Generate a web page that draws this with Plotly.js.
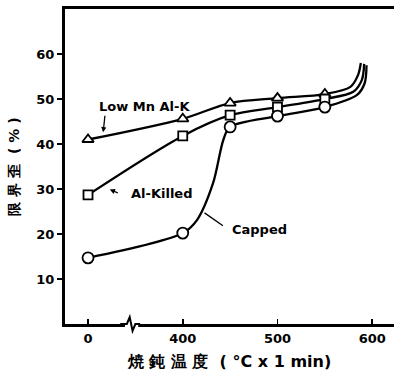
<!DOCTYPE html>
<html>
<head>
<meta charset="utf-8">
<script src="https://cdn.plot.ly/plotly-3.0.1.min.js"></script>
<style>html,body{margin:0;padding:0;background:#fff}#chart{width:394px;height:376px}</style>
</head>
<body>
<div id="chart"></div>
<script>
// Measured points (annealing temperature °C, limit strain %)
var temps = [0, 400, 450, 500, 550];
var lowMnAlK = [41, 45.6, 49.1, 50.2, 51.1];
var alKilled = [28.7, 41.8, 46.4, 48.2, 50.0];
var capped = [14.7, 20.2, 43.8, 46.2, 48.2];

// Curve paths (include the steep rise near 590 °C)
var lowMnCurveX = [0, 400, 450, 500, 550, 577, 585, 588];
var lowMnCurveY = [41, 45.6, 49.1, 50.2, 51.1, 52.7, 55.3, 58.0];
var alKilledCurveX = [0, 400, 450, 500, 550, 580, 589, 591.5];
var alKilledCurveY = [28.7, 41.8, 46.4, 48.2, 50.0, 51.6, 54.2, 57.8];
var cappedCurveX = [0, 400, 415, 432, 443, 450, 500, 550, 584, 592, 594];
var cappedCurveY = [14.7, 20.2, 23.1, 31.3, 41.0, 43.8, 46.2, 48.2, 50.9, 53.5, 57.5];

var xTickVals = [0, 400, 500, 600];
var xTickText = ['0', '400', '500', '600'];
var yTickVals = [10, 20, 30, 40, 50, 60];

// broken x axis: 0..100 shown just before 400
var BREAK_SHIFT = 300;
function bx(t) { return t < 400 ? t + BREAK_SHIFT : t; }
function mapX(a) { return a.map(bx); }

var FONT = 'DejaVu Sans, Arial, sans-serif';
var lineStyle = {color: '#000', width: 2.3, shape: 'spline', smoothing: 0.9};

var traces = [
  {x: mapX(lowMnCurveX), y: lowMnCurveY, mode: 'lines', line: lineStyle, hoverinfo: 'skip'},
  {x: mapX(alKilledCurveX), y: alKilledCurveY, mode: 'lines', line: lineStyle, hoverinfo: 'skip'},
  {x: mapX(cappedCurveX), y: cappedCurveY, mode: 'lines', line: lineStyle, hoverinfo: 'skip'},
  {x: mapX(temps), y: lowMnAlK, mode: 'markers', name: 'Low Mn Al-K',
   marker: {symbol: 'triangle-up', size: 10, color: '#fff', line: {color: '#000', width: 1.8}}},
  {x: mapX(temps), y: alKilled, mode: 'markers', name: 'Al-Killed',
   marker: {symbol: 'square', size: 9, color: '#fff', line: {color: '#000', width: 1.8}}},
  {x: mapX(temps), y: capped, mode: 'markers', name: 'Capped',
   marker: {symbol: 'circle', size: 11, color: '#fff', line: {color: '#000', width: 1.8}}}
];

var layout = {
  width: 394, height: 376,
  margin: {l: 65, r: 0, t: 9, b: 52},
  paper_bgcolor: '#fff', plot_bgcolor: '#fff',
  showlegend: false,
  font: {family: FONT, color: '#000', size: 13},
  xaxis: {
    range: [275.7, 623], tickvals: mapX(xTickVals), ticktext: xTickText,
    showgrid: false, zeroline: false, showline: true, linecolor: '#000', linewidth: 3, mirror: true,
    ticks: 'inside', ticklen: 5, tickwidth: 1.5, tickcolor: '#000',
    tickfont: {family: FONT, size: 13, weight: 'bold'},
    title: {text: '焼 鈍 温 度  ( °C x 1 min)', font: {family: FONT, size: 16, weight: 'bold'}, standoff: 12}
  },
  yaxis: {
    range: [0, 70], tickvals: yTickVals,
    showgrid: false, zeroline: false, showline: true, linecolor: '#000', linewidth: 3,
    ticks: 'outside', ticklen: 5, tickwidth: 1.5, tickcolor: '#000',
    tickfont: {family: FONT, size: 13, weight: 'bold'},
    title: {text: '限 界 歪  ( % )', font: {family: FONT, size: 14, weight: 'bold'}, standoff: 14}
  },
  shapes: [
    {type: 'rect', xref: 'x', yref: 'paper', x0: 339, x1: 353, y0: -0.012, y1: 0.012,
     fillcolor: '#fff', line: {width: 0}, layer: 'above'},
    {type: 'path', xref: 'x', yref: 'paper', layer: 'above',
     path: 'M 334,0 L 341,0 L 344,0.022 L 347,-0.022 L 350,0 L 355,0',
     line: {color: '#000', width: 2}}
  ],
  annotations: [
    {x: 360, y: 48.3, xref: 'x', yref: 'y', text: 'Low Mn Al-K', showarrow: false,
     font: {family: FONT, size: 13, weight: 'bold'}},
    {x: 316, y: 42.6, xref: 'x', yref: 'y', ax: 318, ay: 46.6, axref: 'x', ayref: 'y',
     text: '', showarrow: true, arrowhead: 2, arrowsize: 0.8, arrowwidth: 1.3, arrowcolor: '#000'},
    {x: 378, y: 28.9, xref: 'x', yref: 'y', text: 'Al-Killed', showarrow: false,
     font: {family: FONT, size: 13, weight: 'bold'}},
    {x: 323, y: 29.9, xref: 'x', yref: 'y', ax: 333, ay: 29.0, axref: 'x', ayref: 'y',
     text: '', showarrow: true, arrowhead: 2, arrowsize: 0.8, arrowwidth: 1.3, arrowcolor: '#000'},
    {x: 481, y: 20.9, xref: 'x', yref: 'y', text: 'Capped', showarrow: false,
     font: {family: FONT, size: 13, weight: 'bold'}},
    {x: 423, y: 24.7, xref: 'x', yref: 'y', ax: 444, ay: 21.6, axref: 'x', ayref: 'y',
     text: '', showarrow: true, arrowhead: 0, arrowwidth: 1.3, arrowcolor: '#000'}
  ]
};

Plotly.newPlot('chart', traces, layout, {staticPlot: true, displayModeBar: false});
</script>
</body>
</html>
